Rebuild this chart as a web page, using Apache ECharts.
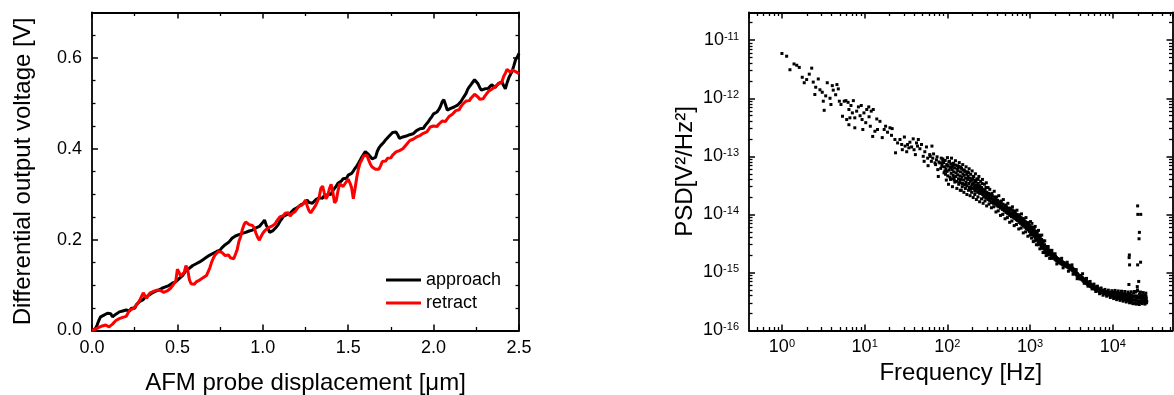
<!DOCTYPE html>
<html>
<head>
<meta charset="utf-8">
<script src="https://cdn.jsdelivr.net/npm/echarts@6.0.0/dist/echarts.min.js"></script>
<style>
  html, body { margin: 0; padding: 0; background: #fff; }
  #chart { width: 1174px; height: 395px; }
</style>
</head>
<body>
<div id="chart"></div>
<script>
const FONT = 'Liberation Sans'

// left panel: probe displacement [um] and the two voltage traces [V]
const displacement = [
  0, 0.01, 0.02, 0.03, 0.04, 0.05, 0.06, 0.07, 0.08, 0.09,
  0.1, 0.11, 0.12, 0.13, 0.14, 0.15, 0.16, 0.17, 0.18, 0.19,
  0.2, 0.21, 0.22, 0.23, 0.24, 0.25, 0.26, 0.27, 0.28, 0.29,
  0.3, 0.31, 0.32, 0.33, 0.34, 0.35, 0.36, 0.37, 0.38, 0.39,
  0.4, 0.41, 0.42, 0.43, 0.44, 0.45, 0.46, 0.47, 0.48, 0.49,
  0.5, 0.51, 0.52, 0.53, 0.54, 0.55, 0.56, 0.57, 0.58, 0.59,
  0.6, 0.61, 0.62, 0.63, 0.64, 0.65, 0.66, 0.67, 0.68, 0.69,
  0.7, 0.71, 0.72, 0.73, 0.74, 0.75, 0.76, 0.77, 0.78, 0.79,
  0.8, 0.81, 0.82, 0.83, 0.84, 0.85, 0.86, 0.87, 0.88, 0.89,
  0.9, 0.91, 0.92, 0.93, 0.94, 0.95, 0.96, 0.97, 0.98, 0.99,
  1.0, 1.01, 1.02, 1.03, 1.04, 1.05, 1.06, 1.07, 1.08, 1.09,
  1.1, 1.11, 1.12, 1.13, 1.14, 1.15, 1.16, 1.17, 1.18, 1.19,
  1.2, 1.21, 1.22, 1.23, 1.24, 1.25, 1.26, 1.27, 1.28, 1.29,
  1.3, 1.31, 1.32, 1.33, 1.34, 1.35, 1.36, 1.37, 1.38, 1.39,
  1.4, 1.41, 1.42, 1.43, 1.44, 1.45, 1.46, 1.47, 1.48, 1.49,
  1.5, 1.51, 1.52, 1.53, 1.54, 1.55, 1.56, 1.57, 1.58, 1.59,
  1.6, 1.61, 1.62, 1.63, 1.64, 1.65, 1.66, 1.67, 1.68, 1.69,
  1.7, 1.71, 1.72, 1.73, 1.74, 1.75, 1.76, 1.77, 1.78, 1.79,
  1.8, 1.81, 1.82, 1.83, 1.84, 1.85, 1.86, 1.87, 1.88, 1.89,
  1.9, 1.91, 1.92, 1.93, 1.94, 1.95, 1.96, 1.97, 1.98, 1.99,
  2.0, 2.01, 2.02, 2.03, 2.04, 2.05, 2.06, 2.07, 2.08, 2.09,
  2.1, 2.11, 2.12, 2.13, 2.14, 2.15, 2.16, 2.17, 2.18, 2.19,
  2.2, 2.21, 2.22, 2.23, 2.24, 2.25, 2.26, 2.27, 2.28, 2.29,
  2.3, 2.31, 2.32, 2.33, 2.34, 2.35, 2.36, 2.37, 2.38, 2.39,
  2.4, 2.41, 2.42, 2.43, 2.44, 2.45, 2.46, 2.47, 2.48, 2.49,
  2.5
]

const approach = [
  0.000, 0.002, 0.004, 0.012, 0.022, 0.030, 0.026, 0.034, 0.031, 0.038,
  0.035, 0.037, 0.030, 0.029, 0.036, 0.033, 0.041, 0.038, 0.043, 0.040,
  0.045, 0.047, 0.043, 0.049, 0.052, 0.049, 0.057, 0.059, 0.064, 0.060,
  0.068, 0.073, 0.069, 0.077, 0.074, 0.082, 0.079, 0.086, 0.083, 0.089,
  0.086, 0.093, 0.090, 0.096, 0.092, 0.099, 0.097, 0.104, 0.101, 0.107,
  0.110, 0.114, 0.112, 0.121, 0.125, 0.132, 0.128, 0.137, 0.135, 0.143,
  0.139, 0.147, 0.144, 0.151, 0.148, 0.156, 0.153, 0.161, 0.158, 0.166,
  0.163, 0.170, 0.167, 0.174, 0.171, 0.177, 0.182, 0.179, 0.189, 0.186,
  0.194, 0.197, 0.203, 0.199, 0.208, 0.205, 0.211, 0.207, 0.214, 0.210,
  0.216, 0.212, 0.219, 0.215, 0.221, 0.217, 0.226, 0.222, 0.229, 0.233,
  0.238, 0.243, 0.232, 0.225, 0.216, 0.213, 0.220, 0.217, 0.228, 0.233,
  0.240, 0.245, 0.251, 0.247, 0.255, 0.252, 0.258, 0.256, 0.266, 0.262,
  0.270, 0.267, 0.276, 0.273, 0.280, 0.284, 0.287, 0.282, 0.286, 0.280,
  0.284, 0.288, 0.285, 0.292, 0.296, 0.291, 0.297, 0.293, 0.299, 0.303,
  0.300, 0.308, 0.313, 0.318, 0.324, 0.321, 0.329, 0.334, 0.338, 0.335,
  0.342, 0.339, 0.346, 0.351, 0.357, 0.362, 0.368, 0.375, 0.382, 0.388,
  0.394, 0.391, 0.387, 0.385, 0.378, 0.374, 0.381, 0.394, 0.402, 0.407,
  0.411, 0.415, 0.420, 0.424, 0.428, 0.432, 0.436, 0.440, 0.437, 0.431,
  0.423, 0.420, 0.426, 0.422, 0.428, 0.425, 0.431, 0.428, 0.433, 0.437,
  0.440, 0.437, 0.444, 0.448, 0.445, 0.451, 0.455, 0.460, 0.466, 0.471,
  0.477, 0.474, 0.481, 0.486, 0.493, 0.503, 0.508, 0.497, 0.485, 0.483,
  0.489, 0.486, 0.492, 0.489, 0.496, 0.499, 0.504, 0.510, 0.516, 0.522,
  0.531, 0.537, 0.542, 0.547, 0.552, 0.550, 0.543, 0.535, 0.529, 0.527,
  0.532, 0.528, 0.533, 0.537, 0.541, 0.538, 0.535, 0.539, 0.544, 0.541,
  0.547, 0.539, 0.532, 0.545, 0.556, 0.560, 0.571, 0.583, 0.596, 0.602,
  0.610
]

const retract = [
  0.000, 0.001, 0.003, 0.002, 0.007, 0.005, 0.010, 0.008, 0.012, 0.009,
  0.008, 0.006, 0.014, 0.018, 0.022, 0.019, 0.026, 0.024, 0.029, 0.033,
  0.031, 0.038, 0.044, 0.041, 0.048, 0.052, 0.056, 0.061, 0.067, 0.075,
  0.083, 0.076, 0.071, 0.078, 0.083, 0.080, 0.086, 0.083, 0.089, 0.092,
  0.088, 0.091, 0.084, 0.082, 0.087, 0.090, 0.093, 0.097, 0.103, 0.108,
  0.135, 0.131, 0.120, 0.117, 0.128, 0.143, 0.134, 0.112, 0.103, 0.106,
  0.102, 0.107, 0.105, 0.111, 0.109, 0.116, 0.113, 0.121, 0.125, 0.138,
  0.150, 0.159, 0.166, 0.170, 0.174, 0.177, 0.172, 0.168, 0.165, 0.162,
  0.166, 0.160, 0.163, 0.158, 0.168, 0.178, 0.196, 0.206, 0.222, 0.233,
  0.239, 0.236, 0.233, 0.229, 0.231, 0.226, 0.214, 0.205, 0.199, 0.207,
  0.214, 0.219, 0.221, 0.226, 0.223, 0.229, 0.227, 0.234, 0.240, 0.245,
  0.250, 0.247, 0.253, 0.258, 0.255, 0.259, 0.252, 0.257, 0.254, 0.262,
  0.266, 0.273, 0.270, 0.276, 0.281, 0.287, 0.274, 0.264, 0.259, 0.262,
  0.270, 0.276, 0.284, 0.294, 0.313, 0.318, 0.303, 0.290, 0.297, 0.312,
  0.322, 0.305, 0.281, 0.286, 0.307, 0.323, 0.321, 0.317, 0.320, 0.328,
  0.333, 0.325, 0.314, 0.290, 0.312, 0.337, 0.356, 0.369, 0.376, 0.384,
  0.388, 0.386, 0.375, 0.366, 0.360, 0.357, 0.355, 0.352, 0.355, 0.363,
  0.372, 0.375, 0.373, 0.379, 0.382, 0.380, 0.386, 0.389, 0.393, 0.390,
  0.396, 0.394, 0.400, 0.404, 0.409, 0.413, 0.418, 0.415, 0.421, 0.424,
  0.426, 0.423, 0.429, 0.432, 0.434, 0.431, 0.437, 0.442, 0.448, 0.445,
  0.450, 0.447, 0.449, 0.454, 0.458, 0.461, 0.464, 0.460, 0.466, 0.471,
  0.470, 0.476, 0.480, 0.484, 0.488, 0.486, 0.493, 0.498, 0.502, 0.505,
  0.509, 0.506, 0.512, 0.516, 0.520, 0.518, 0.514, 0.509, 0.506, 0.510,
  0.516, 0.521, 0.526, 0.523, 0.531, 0.535, 0.537, 0.540, 0.543, 0.541,
  0.547, 0.559, 0.566, 0.575, 0.571, 0.568, 0.573, 0.577, 0.570, 0.574,
  0.565
]

// right panel: [frequency Hz, PSD V^2/Hz^2]
const lowBand = [
  [1.0, 5.9e-12], [1.14, 5.3e-12], [1.25, 3.1e-12], [1.4, 3.9e-12], [1.51, 3.7e-12], [1.62, 3.4e-12],
  [2.29, 3.3e-12], [1.76, 2.3e-12], [1.99, 2.1e-12], [1.86, 1.85e-12], [2.14, 2.6e-12], [2.39, 1.9e-12],
  [2.56, 1.55e-12], [2.5, 1.16e-12], [2.75, 2.15e-12], [2.88, 1.4e-12], [3.07, 1.27e-12], [3.16, 8.9e-13],
  [3.24, 6.2e-13], [3.38, 1.1e-12], [3.53, 1.85e-12], [3.81, 1.0e-12], [3.91, 7.8e-13], [4.06, 1.65e-12],
  [4.17, 1.38e-12], [4.46, 1.15e-12], [4.62, 1.72e-12], [4.8, 1.45e-12], [4.94, 8.9e-13], [5.17, 7.8e-13],
  [5.4, 4.9e-13], [5.66, 8.9e-13], [5.93, 9.1e-13], [6.3, 8.5e-13], [6.45, 6.4e-13], [6.83, 7.5e-13],
  [7.1, 5.6e-13], [7.3, 9.1e-13], [6.06, 4.3e-13], [6.63, 4.6e-13], [7.6, 4.6e-13], [6.45, 3.5e-13],
  [7.6, 3.1e-13], [8.0, 6.0e-13], [8.4, 7.1e-13], [8.8, 5.0e-13], [9.1, 7.5e-13], [9.3, 4.3e-13],
  [9.5, 2.9e-13], [9.8, 5.6e-13], [10.3, 3.8e-13], [10.6, 6.4e-13], [11.2, 7.1e-13], [11.3, 4.8e-13],
  [11.7, 3.3e-13], [12.0, 6.0e-13], [12.5, 2.2e-13], [12.7, 6.4e-13], [13.3, 2.7e-13], [14.0, 4.4e-13],
  [14.3, 2.9e-13], [15.3, 4.0e-13], [16.3, 2.1e-13], [17.2, 2.9e-13], [17.9, 3.3e-13], [18.9, 2.6e-13],
  [20.2, 3.1e-13], [21.1, 2.3e-13], [21.5, 3.0e-13], [23.2, 1.95e-13], [23.6, 1.15e-13], [25, 1.7e-13],
  [26.7, 1.95e-13], [28, 1.6e-13], [28.5, 1.3e-13], [30.2, 2.15e-13], [30.8, 1.5e-13], [32.2, 1.2e-13],
  [33, 1.6e-13], [34.2, 1.4e-13], [35.2, 1.75e-13], [36.9, 1.45e-13], [38.6, 2.0e-13], [39.5, 1.3e-13],
  [41, 1.07e-13], [42.3, 1.7e-13], [43.5, 1.5e-13], [44.5, 1.95e-13], [46.5, 1.35e-13], [48.6, 1.6e-13],
  [51, 1.0e-13], [52.3, 8.2e-14], [53.3, 1.2e-13], [55.8, 1.45e-13], [57.7, 9.3e-14], [58.4, 6.9e-14],
  [61.1, 1.07e-13], [62, 1.0e-13], [64, 8.2e-14], [65, 1.5e-13], [66.5, 9.3e-14], [68, 1.1e-13],
  [70.7, 7.7e-14], [72, 7.2e-14], [73.7, 8.7e-14], [75, 9.8e-14], [76.5, 5.9e-14], [77.6, 4.5e-14],
  [79, 8.0e-14], [80.9, 7.7e-14], [83, 6.2e-14], [84.2, 9.3e-14], [85.6, 6.7e-14], [86, 7.5e-14],
  [87.8, 8.2e-14], [88, 9.0e-14], [93, 5.6e-14]
]

const midBand = [
  [90, 7.8e-14], [91, 5.2e-14], [92, 6.6e-14], [94, 8.5e-14], [95, 4.9e-14], [96, 6.1e-14], [98, 7.2e-14],
  [99, 5.5e-14], [101, 4.6e-14], [102, 6.8e-14], [104, 8.0e-14], [105, 5.8e-14], [107, 4.4e-14], [108, 6.4e-14],
  [110, 7.4e-14], [111, 5.1e-14], [113, 4.1e-14], [114, 5.9e-14], [116, 6.9e-14], [117, 4.7e-14], [119, 5.4e-14],
  [121, 3.9e-14], [122, 6.3e-14], [124, 7.1e-14], [126, 4.5e-14], [127, 5.2e-14], [129, 3.7e-14], [131, 6.0e-14],
  [133, 4.8e-14], [134, 5.6e-14], [136, 4.1e-14], [138, 6.7e-14], [140, 3.5e-14], [142, 4.6e-14], [144, 5.4e-14],
  [146, 4.0e-14], [147, 2.6e-14], [148, 6.2e-14], [150, 4.4e-14], [152, 3.4e-14], [154, 5.0e-14], [157, 3.9e-14],
  [159, 4.7e-14], [161, 3.2e-14], [163, 5.5e-14], [166, 4.2e-14], [168, 3.6e-14], [171, 4.9e-14], [173, 3.1e-14],
  [176, 4.0e-14], [178, 4.5e-14], [181, 3.4e-14], [184, 2.9e-14], [186, 4.2e-14], [189, 3.7e-14], [192, 3.0e-14],
  [195, 3.9e-14], [198, 3.3e-14],
  [201, 4.1e-14], [203, 3.3e-14], [204, 2.8e-14], [207, 3.5e-14], [210, 3.0e-14], [211, 2.9e-14], [213, 3.9e-14],
  [216, 2.6e-14], [218, 3.7e-14], [219, 3.2e-14], [222, 3.6e-14], [226, 2.7e-14], [228, 2.9e-14], [229, 3.1e-14],
  [232, 2.4e-14], [236, 3.4e-14], [238, 3.0e-14], [239, 2.8e-14], [243, 2.5e-14], [247, 3.1e-14], [249, 2.8e-14],
  [251, 2.6e-14], [255, 2.3e-14], [259, 2.9e-14], [261, 2.7e-14], [263, 2.5e-14], [267, 2.2e-14], [271, 2.7e-14],
  [273, 2.5e-14], [276, 2.4e-14], [280, 2.0e-14], [285, 2.6e-14], [287, 2.4e-14], [289, 2.2e-14], [294, 1.9e-14],
  [299, 2.4e-14], [301, 2.2e-14], [304, 2.1e-14], [309, 1.8e-14], [314, 2.3e-14], [316, 2.0e-14], [319, 2.0e-14],
  [324, 1.7e-14], [330, 2.2e-14], [332, 1.9e-14], [335, 1.9e-14], [341, 1.6e-14], [347, 2.1e-14], [349, 1.85e-14],
  [352, 1.8e-14], [358, 1.55e-14], [364, 2.0e-14], [366, 1.75e-14], [370, 1.7e-14], [377, 1.5e-14], [383, 1.85e-14],
  [385, 1.6e-14], [390, 1.6e-14], [396, 1.4e-14], [403, 1.75e-14], [405, 1.5e-14], [410, 1.55e-14], [417, 1.35e-14],
  [424, 1.65e-14], [426, 1.45e-14], [431, 1.45e-14], [438, 1.28e-14], [446, 1.6e-14], [448, 1.4e-14], [453, 1.38e-14],
  [461, 1.22e-14], [469, 1.5e-14], [472, 1.3e-14], [477, 1.3e-14], [485, 1.15e-14], [493, 1.42e-14], [496, 1.25e-14],
  [502, 1.24e-14], [510, 1.08e-14], [519, 1.35e-14], [522, 1.2e-14], [528, 1.17e-14], [537, 1.02e-14], [546, 1.28e-14],
  [549, 1.12e-14], [555, 1.1e-14], [565, 9.6e-15], [575, 1.2e-14], [578, 1.06e-14], [584, 1.04e-14], [594, 9.1e-15],
  [605, 1.2e-14], [612, 9.5e-15], [616, 1.02e-14], [620, 1.08e-14], [628, 8.9e-15], [636, 1.15e-14], [644, 9.8e-15],
  [648, 1.0e-14], [652, 8.5e-15], [661, 1.06e-14], [670, 9.2e-15], [679, 8.1e-15], [684, 9.0e-15], [688, 1.0e-14],
  [697, 8.8e-15], [706, 7.8e-15], [715, 9.7e-15], [720, 8.6e-15], [725, 8.4e-15], [735, 7.3e-15], [745, 9.1e-15],
  [755, 8.0e-15], [760, 8.2e-15], [765, 7.0e-15], [775, 8.8e-15], [786, 7.6e-15], [797, 6.6e-15], [802, 7.5e-15],
  [808, 8.4e-15], [819, 7.2e-15], [830, 6.3e-15], [841, 7.9e-15], [847, 7.0e-15], [853, 6.9e-15], [864, 6.0e-15],
  [876, 7.5e-15], [888, 6.5e-15], [894, 6.4e-15], [900, 5.7e-15], [913, 7.2e-15], [925, 6.2e-15], [938, 5.4e-15],
  [944, 6.0e-15], [951, 6.8e-15], [964, 5.9e-15], [977, 5.1e-15], [990, 6.4e-15], [997, 5.7e-15], [1004, 5.6e-15],
  [1018, 4.8e-15], [1032, 6.1e-15], [1046, 5.3e-15], [1053, 5.2e-15], [1060, 4.5e-15], [1075, 5.8e-15], [1090, 5.0e-15],
  [1105, 4.2e-15], [1112, 4.8e-15], [1120, 5.5e-15], [1135, 4.7e-15], [1151, 3.9e-15], [1167, 5.1e-15], [1175, 4.3e-15],
  [1183, 4.4e-15], [1199, 3.6e-15], [1215, 4.8e-15], [1232, 4.0e-15], [1241, 3.8e-15], [1249, 3.4e-15], [1266, 4.4e-15],
  [1284, 3.7e-15], [1302, 3.1e-15], [1311, 3.5e-15], [1320, 4.1e-15], [1338, 3.4e-15], [1357, 2.9e-15], [1375, 3.7e-15],
  [1384, 3.2e-15], [1394, 3.1e-15], [1414, 2.7e-15], [1433, 3.3e-15], [1453, 2.8e-15], [1463, 2.9e-15], [1473, 2.5e-15],
  [1494, 3.0e-15], [1514, 2.6e-15], [1535, 2.3e-15], [1546, 2.55e-15], [1557, 2.7e-15], [1578, 2.4e-15], [1600, 2.2e-15],
  [1622, 2.6e-15], [1645, 2.2e-15], [1668, 2.45e-15], [1691, 2.1e-15], [1715, 2.35e-15], [1739, 2.05e-15], [1763, 2.25e-15],
  [1788, 1.95e-15], [1813, 2.15e-15], [1838, 1.9e-15], [1864, 2.1e-15], [1890, 1.82e-15], [1916, 2.0e-15], [1943, 1.75e-15],
  [1970, 1.95e-15], [1998, 1.68e-15], [2026, 1.88e-15], [2054, 1.62e-15], [2083, 1.8e-15], [2112, 1.58e-15], [2142, 1.74e-15],
  [2172, 1.52e-15], [2202, 1.7e-15], [2233, 1.5e-15], [2264, 1.64e-15], [2296, 1.45e-15], [2328, 1.6e-15], [2361, 1.42e-15],
  [2394, 1.56e-15], [2427, 1.38e-15], [2461, 1.52e-15], [2496, 1.36e-15], [2531, 1.48e-15], [2566, 1.32e-15], [2602, 1.45e-15],
  [2639, 1.3e-15], [2676, 1.42e-15], [2713, 1.27e-15], [2751, 1.39e-15], [2790, 1.25e-15], [2829, 1.36e-15], [2868, 1.22e-15],
  [2909, 1.33e-15], [2949, 1.19e-15], [2991, 1.3e-15], [3033, 1.16e-15], [3075, 1.27e-15], [3118, 1.13e-15], [3162, 1.23e-15],
  [3206, 1.09e-15], [3251, 1.19e-15], [3297, 1.05e-15], [3343, 1.14e-15], [3390, 1.0e-15], [3437, 1.09e-15], [3485, 9.6e-16],
  [3534, 1.04e-15], [3584, 9.2e-16], [3634, 9.9e-16], [3685, 8.8e-16], [3737, 9.5e-16], [3789, 8.4e-16], [3842, 9.0e-16],
  [3896, 8.0e-16], [3951, 8.6e-16], [4006, 7.7e-16]
]

// outer scatter of the band (upper and lower fringe points)
const bandFringe = [
  [100, 9.5e-14], [106, 8.2e-14], [112, 9.3e-14], [118, 7.6e-14], [125, 8.4e-14], [132, 6.9e-14], [139, 7.8e-14],
  [145, 6.5e-14], [153, 7.2e-14], [160, 5.8e-14], [168, 6.6e-14], [175, 5.4e-14], [183, 6.1e-14], [191, 4.9e-14],
  [199, 5.6e-14], [208, 4.5e-14], [218, 5.0e-14], [228, 4.1e-14], [240, 4.5e-14], [252, 3.7e-14], [265, 4.0e-14],
  [280, 3.3e-14], [295, 3.5e-14], [310, 2.9e-14],
  [97, 3.9e-14], [103, 3.3e-14], [109, 4.0e-14], [115, 3.0e-14], [123, 3.6e-14], [130, 2.8e-14], [137, 3.3e-14],
  [143, 2.6e-14], [151, 3.0e-14], [158, 2.4e-14], [165, 2.8e-14], [172, 2.2e-14], [180, 2.6e-14], [188, 2.1e-14],
  [196, 2.4e-14], [205, 1.95e-14], [214, 2.2e-14], [224, 1.8e-14], [234, 2.0e-14], [245, 1.65e-14], [258, 1.85e-14],
  [270, 1.55e-14], [284, 1.7e-14], [298, 1.4e-14],
  [100, 7.0e-14], [112, 6.6e-14], [120, 4.3e-14], [135, 6.3e-14], [142, 3.8e-14], [155, 5.8e-14], [165, 3.3e-14],
  [180, 5.2e-14], [190, 2.7e-14], [205, 4.5e-14], [215, 2.5e-14], [235, 4.0e-14], [245, 2.3e-14], [262, 3.4e-14],
  [275, 2.0e-14], [292, 2.9e-14],
  [325, 2.7e-14], [345, 2.3e-14], [368, 2.5e-14], [392, 2.0e-14], [418, 2.1e-14], [445, 1.7e-14], [474, 1.8e-14],
  [505, 1.45e-14], [538, 1.55e-14], [573, 1.28e-14], [610, 1.35e-14], [650, 1.12e-14], [692, 1.18e-14], [737, 9.8e-15],
  [785, 1.02e-14], [836, 8.4e-15], [890, 8.8e-15], [948, 7.2e-15], [1010, 7.5e-15],
  [318, 1.5e-14], [340, 1.3e-14], [362, 1.35e-14], [386, 1.1e-14], [411, 1.15e-14], [438, 9.6e-15], [467, 1.0e-14],
  [497, 8.4e-15], [530, 8.8e-15], [565, 7.3e-15], [602, 7.7e-15], [641, 6.4e-15], [683, 6.7e-15], [728, 5.6e-15],
  [776, 5.8e-15], [826, 4.8e-15], [880, 5.0e-15], [938, 4.2e-15], [1000, 4.4e-15],
  [1050, 7.0e-15], [1100, 6.0e-15], [1150, 6.2e-15], [1200, 5.1e-15], [1260, 5.3e-15], [1320, 4.3e-15], [1380, 4.4e-15],
  [1440, 3.5e-15], [1500, 3.5e-15], [1570, 2.8e-15], [1650, 2.8e-15], [1740, 2.4e-15], [1830, 2.4e-15],
  [1040, 3.9e-15], [1090, 3.4e-15], [1140, 3.5e-15], [1190, 3.0e-15], [1250, 3.0e-15], [1310, 2.55e-15], [1370, 2.6e-15],
  [1430, 2.2e-15], [1490, 2.2e-15], [1560, 1.95e-15], [1640, 2.0e-15], [1720, 1.75e-15], [1810, 1.75e-15],
  [2000, 2.1e-15], [2400, 1.75e-15], [2800, 1.5e-15], [3200, 1.35e-15], [3600, 1.12e-15],
  [2100, 1.4e-15], [2500, 1.2e-15], [2900, 1.05e-15], [3300, 9.3e-16], [3700, 7.8e-16]
]

const floorBand = [
  [4060, 8.9e-16], [4115, 7.9e-16], [4170, 8.4e-16], [4200, 8.0e-16], [4227, 7.5e-16], [4284, 8.1e-16], [4342, 7.2e-16],
  [4400, 7.8e-16], [4460, 7.0e-16], [4490, 7.3e-16], [4520, 7.6e-16], [4581, 6.8e-16], [4643, 7.3e-16], [4706, 6.6e-16],
  [4770, 7.1e-16], [4800, 6.7e-16], [4834, 6.4e-16], [4900, 6.9e-16], [4966, 6.2e-16], [5033, 6.7e-16], [5101, 6.0e-16],
  [5130, 6.3e-16], [5170, 6.5e-16], [5240, 5.9e-16], [5311, 6.3e-16], [5383, 5.7e-16], [5456, 6.2e-16], [5480, 5.9e-16],
  [5530, 5.6e-16], [5605, 6.0e-16], [5680, 5.4e-16], [5757, 5.9e-16], [5835, 5.3e-16], [5860, 5.5e-16], [5914, 5.8e-16],
  [5994, 5.2e-16], [6075, 5.6e-16], [6157, 5.1e-16], [6241, 5.5e-16], [6260, 5.2e-16], [6325, 5.0e-16], [6411, 5.4e-16],
  [6498, 4.9e-16], [6586, 5.3e-16], [6675, 4.8e-16], [6690, 5.0e-16], [6766, 5.2e-16], [6857, 4.7e-16], [6950, 5.1e-16],
  [7044, 4.6e-16], [7140, 5.0e-16], [7150, 4.8e-16], [7236, 4.55e-16], [7334, 4.9e-16], [7434, 4.5e-16], [7534, 4.85e-16],
  [7636, 4.4e-16], [7640, 4.6e-16], [7740, 4.8e-16], [7845, 4.35e-16], [7951, 4.75e-16], [8059, 4.3e-16], [8160, 4.5e-16],
  [8168, 4.7e-16], [8279, 4.25e-16], [8391, 4.65e-16], [8504, 4.2e-16], [8619, 4.6e-16], [8720, 4.35e-16], [8736, 4.15e-16],
  [8855, 4.55e-16], [8975, 4.1e-16], [9096, 4.5e-16], [9219, 4.05e-16], [9320, 4.25e-16], [9344, 4.5e-16], [9471, 4.0e-16],
  [9599, 4.45e-16], [9729, 3.95e-16], [9861, 4.4e-16], [9950, 4.2e-16], [9995, 3.9e-16], [10130, 4.45e-16], [10267, 3.85e-16],
  [10406, 4.6e-16], [10547, 3.9e-16], [10630, 4.1e-16], [10690, 4.3e-16], [10835, 3.7e-16], [10982, 4.5e-16], [11131, 3.8e-16],
  [11282, 4.2e-16], [11360, 4.0e-16], [11435, 3.6e-16], [11590, 4.4e-16], [11747, 3.75e-16], [11906, 4.15e-16], [12067, 3.55e-16],
  [12140, 3.95e-16], [12230, 4.35e-16], [12396, 3.7e-16], [12564, 4.1e-16], [12734, 3.5e-16], [12907, 4.3e-16], [12970, 3.9e-16],
  [13082, 3.65e-16], [13259, 4.05e-16], [13439, 3.45e-16], [13621, 4.25e-16], [13805, 3.6e-16], [13850, 3.85e-16], [13992, 4.0e-16],
  [14182, 3.4e-16], [14374, 4.2e-16], [14569, 3.55e-16], [14766, 3.95e-16], [14800, 3.8e-16], [14966, 3.3e-16], [15169, 4.15e-16],
  [15374, 3.5e-16], [15582, 3.9e-16], [15794, 3.25e-16], [15810, 3.75e-16], [16008, 4.3e-16], [16225, 3.45e-16], [16444, 3.85e-16],
  [16667, 3.1e-16], [16890, 3.7e-16], [16893, 4.1e-16], [17122, 3.4e-16], [17354, 3.8e-16], [17589, 3.0e-16], [17827, 4.4e-16],
  [18040, 3.9e-16], [18069, 3.35e-16], [18313, 3.75e-16], [18561, 2.95e-16], [18813, 4.6e-16], [19068, 3.3e-16], [19270, 3.95e-16],
  [19326, 3.7e-16], [19588, 2.9e-16], [19853, 4.8e-16], [20122, 3.25e-16], [20395, 3.65e-16], [20590, 3.8e-16], [20671, 3.0e-16],
  [20951, 4.2e-16], [21235, 3.2e-16], [21523, 3.6e-16], [21814, 3.05e-16], [22000, 3.75e-16], [22110, 4.1e-16], [22409, 3.3e-16],
  [22713, 3.55e-16], [23020, 3.1e-16], [23332, 4.0e-16], [23500, 3.8e-16], [23648, 3.35e-16], [23969, 3.5e-16], [24293, 3.15e-16],
  [24622, 4.05e-16], [24956, 3.4e-16], [25100, 3.85e-16], [25294, 3.6e-16], [25637, 3.2e-16],
  [4300, 9.5e-16], [4800, 7.9e-16], [5300, 7.0e-16], [5900, 6.3e-16], [6500, 5.8e-16], [7200, 5.4e-16], [8000, 5.1e-16],
  [8800, 4.95e-16], [9700, 4.85e-16], [10600, 4.9e-16], [11600, 4.8e-16], [12700, 4.75e-16], [13900, 4.7e-16], [15200, 4.6e-16],
  [16600, 4.65e-16], [18200, 4.7e-16], [19800, 5.0e-16], [21500, 4.6e-16], [23200, 4.5e-16], [25000, 4.4e-16],
  [4500, 6.5e-16], [5000, 5.8e-16], [5600, 5.2e-16], [6200, 4.7e-16], [6900, 4.3e-16], [7600, 4.05e-16], [8400, 3.9e-16],
  [9300, 3.7e-16], [10200, 3.55e-16], [11100, 3.4e-16], [12200, 3.3e-16], [13300, 3.2e-16], [14500, 3.1e-16], [15900, 3.0e-16],
  [17400, 2.9e-16], [19000, 2.85e-16], [20800, 2.8e-16], [22600, 2.9e-16], [24400, 2.85e-16], [25500, 3.0e-16]
]

const spikes = [
  [15600, 6.2e-16], [15700, 1.8e-15], [15800, 2.0e-15], [15900, 1.35e-15], [19700, 5.7e-16], [19900, 1.35e-15],
  [19900, 1.4e-14], [20000, 1.0e-14], [20500, 7.0e-16], [20700, 3.8e-15], [20900, 4.9e-15], [21600, 1.5e-15],
  [21700, 1.0e-14]
]

// axis ranges
const freqMin = 0.4
const freqMax = 52500
const psdMin = 1e-16
const psdMax = 3e-11
const minorMultipliers = [2, 3, 4, 5, 6, 7, 8, 9]

// minor tick positions (in log10 units) between decades of a log axis
function logMinorTicks(lo, hi) {
  const a = Math.log10(lo)
  const b = Math.log10(hi)
  const out = []
  for (let d = Math.floor(a); d <= Math.ceil(b); d++) {
    minorMultipliers.forEach(m => {
      const v = d + Math.log10(m)
      if (v > a && v < b) out.push(v)
    })
  }
  return out
}

const black = '#000'
const red = '#ff0000'
const axisLine = { show: true, onZero: false, lineStyle: { color: black, width: 1.8 } }
const noLine = { show: false, onZero: false }
const majorTick = { show: true, inside: true, length: 6, lineStyle: { color: black, width: 1.5 } }
const minorTick = n => ({ show: true, splitNumber: n, length: 3.5, lineStyle: { color: black, width: 1.3 } })
const logMinor = (lo, hi) => ({ show: true, inside: true, length: 3.5, customValues: logMinorTicks(lo, hi), lineStyle: { color: black, width: 1.3 } })
const noSplit = { show: false }
const labelStyle = { fontSize: 18, fontFamily: FONT, color: black }
const nameStyle = { fontSize: 24, fontFamily: FONT, color: black }

const powLabel = v => '{b|10}{e|' + Math.round(Math.log10(v)) + '}'
const powRich = {
  b: { fontSize: 18, fontFamily: FONT, color: black },
  e: { fontSize: 11, fontFamily: FONT, color: black, verticalAlign: 'top' }
}

const chart = echarts.init(document.getElementById('chart'))

const option = {
  animation: false,
  backgroundColor: '#fff',
  grid: [
    { left: 92, top: 12.5, width: 427, height: 318, outerBoundsMode: 'none' },
    { left: 749, top: 12.5, width: 423.5, height: 318, outerBoundsMode: 'none' }
  ],
  legend: {
    data: [
      { name: 'approach', icon: 'rect', itemStyle: { color: black } },
      { name: 'retract', icon: 'rect', itemStyle: { color: red } }
    ],
    orient: 'vertical',
    left: 386,
    top: 270,
    padding: 0,
    itemWidth: 35,
    itemHeight: 3,
    itemGap: 3,
    textStyle: { fontSize: 18, fontFamily: FONT, color: black, lineHeight: 20 }
  },
  xAxis: [
    {
      gridIndex: 0, type: 'value', position: 'bottom', min: 0, max: 2.5, interval: 0.5,
      axisLine, axisTick: majorTick, minorTick: minorTick(2), splitLine: noSplit,
      axisLabel: { ...labelStyle, margin: 9, formatter: v => v.toFixed(1) },
      name: 'AFM probe displacement [\u03bcm]', nameLocation: 'middle', nameGap: 41, nameTextStyle: nameStyle
    },
    {
      gridIndex: 0, type: 'value', position: 'top', min: 0, max: 2.5, interval: 0.5,
      axisLine, axisTick: majorTick, minorTick: minorTick(2), splitLine: noSplit,
      axisLabel: { show: false }
    },
    {
      gridIndex: 1, type: 'log', logBase: 10, position: 'bottom', min: freqMin, max: freqMax,
      axisLine, axisTick: majorTick, splitLine: noSplit,
      axisLabel: { formatter: powLabel, rich: powRich, margin: 8, showMinLabel: false, showMaxLabel: false },
      name: 'Frequency [Hz]', nameLocation: 'middle', nameGap: 30, nameTextStyle: nameStyle
    },
    {
      gridIndex: 1, type: 'log', logBase: 10, position: 'top', min: freqMin, max: freqMax,
      axisLine, axisTick: majorTick, splitLine: noSplit, axisLabel: { show: false }
    },
    {
      gridIndex: 1, type: 'value', position: 'bottom', min: Math.log10(freqMin), max: Math.log10(freqMax),
      axisLine: noLine, splitLine: noSplit, axisLabel: { show: false }, axisTick: logMinor(freqMin, freqMax)
    },
    {
      gridIndex: 1, type: 'value', position: 'top', min: Math.log10(freqMin), max: Math.log10(freqMax),
      axisLine: noLine, splitLine: noSplit, axisLabel: { show: false }, axisTick: logMinor(freqMin, freqMax)
    }
  ],
  yAxis: [
    {
      gridIndex: 0, type: 'value', position: 'left', min: 0, max: 0.7, interval: 0.2,
      axisLine, axisTick: majorTick, minorTick: minorTick(4), splitLine: noSplit,
      axisLabel: { ...labelStyle, margin: 10, showMaxLabel: false, formatter: v => v.toFixed(1) },
      name: 'Differential output voltage [V]', nameLocation: 'middle', nameGap: 57, nameTextStyle: nameStyle
    },
    {
      gridIndex: 0, type: 'value', position: 'right', min: 0, max: 0.7, interval: 0.2,
      axisLine, axisTick: majorTick, minorTick: minorTick(4), splitLine: noSplit,
      axisLabel: { show: false }
    },
    {
      gridIndex: 1, type: 'log', logBase: 10, position: 'left', min: psdMin, max: psdMax,
      axisLine, axisTick: majorTick, splitLine: noSplit,
      axisLabel: { formatter: powLabel, rich: powRich, margin: 10, showMaxLabel: false },
      name: 'PSD[V\u00b2/Hz\u00b2]', nameLocation: 'middle', nameGap: 52, nameTextStyle: nameStyle
    },
    {
      gridIndex: 1, type: 'log', logBase: 10, position: 'right', min: psdMin, max: psdMax,
      axisLine, axisTick: majorTick, splitLine: noSplit, axisLabel: { show: false }
    },
    {
      gridIndex: 1, type: 'value', position: 'left', min: Math.log10(psdMin), max: Math.log10(psdMax),
      axisLine: noLine, splitLine: noSplit, axisLabel: { show: false }, axisTick: logMinor(psdMin, psdMax)
    },
    {
      gridIndex: 1, type: 'value', position: 'right', min: Math.log10(psdMin), max: Math.log10(psdMax),
      axisLine: noLine, splitLine: noSplit, axisLabel: { show: false }, axisTick: logMinor(psdMin, psdMax)
    }
  ],
  series: [
    {
      name: 'approach', type: 'line', xAxisIndex: 0, yAxisIndex: 0,
      data: displacement.map((x, i) => [x, approach[i]]),
      symbol: 'none', showSymbol: false,
      lineStyle: { color: black, width: 3 }, itemStyle: { color: black }
    },
    {
      name: 'retract', type: 'line', xAxisIndex: 0, yAxisIndex: 0,
      data: displacement.map((x, i) => [x, retract[i]]),
      symbol: 'none', showSymbol: false,
      lineStyle: { color: red, width: 3 }, itemStyle: { color: red }
    },
    {
      name: 'PSD', type: 'scatter', xAxisIndex: 2, yAxisIndex: 2,
      data: [...lowBand, ...midBand, ...bandFringe, ...floorBand, ...spikes],
      symbol: 'rect', symbolSize: 3,
      itemStyle: { color: black, opacity: 1, borderWidth: 0 }, silent: true
    }
  ]
}

chart.setOption(option)
window.addEventListener('resize', () => chart.resize())
</script>
</body>
</html>
